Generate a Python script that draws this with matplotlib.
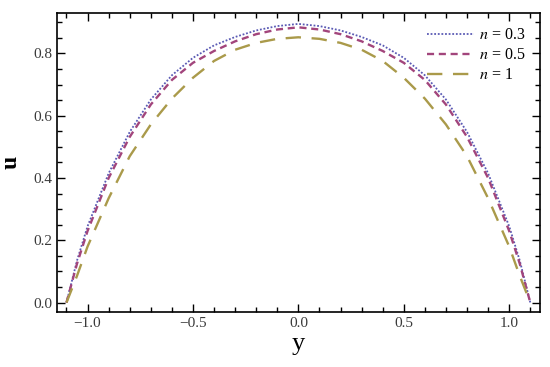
import numpy as np
import matplotlib
matplotlib.use('Agg')
import matplotlib.pyplot as plt
from matplotlib.ticker import MultipleLocator, FuncFormatter

plt.rcParams['font.family'] = ['Liberation Serif', 'DejaVu Serif']
plt.rcParams['mathtext.fontset'] = 'stix'

# velocity profiles
y = [-1.1, -1.05, -1.0, -0.9, -0.8, -0.7, -0.6, -0.5, -0.4, -0.3, -0.2, -0.1, 0.0,
     0.1, 0.2, 0.3, 0.4, 0.5, 0.6, 0.7, 0.8, 0.9, 1.0, 1.05, 1.1]
u_03 = [0.0, 0.135, 0.245, 0.415, 0.548, 0.652, 0.73, 0.786, 0.826, 0.853, 0.874, 0.888, 0.895,
        0.888, 0.874, 0.853, 0.826, 0.786, 0.73, 0.652, 0.548, 0.415, 0.245, 0.135, 0.0]
u_05 = [0.0, 0.125, 0.23, 0.4, 0.532, 0.636, 0.715, 0.77, 0.808, 0.839, 0.862, 0.877, 0.884,
        0.877, 0.862, 0.839, 0.808, 0.77, 0.715, 0.636, 0.532, 0.4, 0.23, 0.125, 0.0]
u_1 = [0.0, 0.086, 0.18, 0.335, 0.47, 0.572, 0.655, 0.722, 0.776, 0.812, 0.834, 0.847, 0.852,
       0.847, 0.834, 0.812, 0.776, 0.722, 0.655, 0.572, 0.47, 0.335, 0.18, 0.086, 0.0]
labels = ['$n$ = 0.3', '$n$ = 0.5', '$n$ = 1']

fig = plt.figure(figsize=(5.5, 3.67), dpi=100)
ax = fig.add_axes([0.1036, 0.150, 0.8782, 0.8146])

ax.plot(y, u_03, color='#5a5ab4', lw=1.3, ls=(0, (1, 1)), label=labels[0])
ax.plot(y, u_05, color='#a2457c', lw=1.7, ls=(0, (3, 2)), label=labels[1])
ax.plot(y, u_1, color='#aa9a4a', lw=1.7, ls=(0, (6.5, 4.5)), label=labels[2])

ax.set_xlim(-1.145, 1.146)
ax.set_ylim(-0.03, 0.93)
ax.xaxis.set_major_locator(MultipleLocator(0.5))
ax.xaxis.set_minor_locator(MultipleLocator(0.1))
ax.yaxis.set_major_locator(MultipleLocator(0.2))
ax.yaxis.set_minor_locator(MultipleLocator(0.05))
fmt = FuncFormatter(lambda v, p: f'{v:.1f}'.replace('-', '\u2212'))
ax.xaxis.set_major_formatter(fmt)
ax.yaxis.set_major_formatter(fmt)
ax.tick_params(which='both', direction='in', top=True, right=True, labelsize=11,
               labelcolor='#3a3a3a', width=1.0)
ax.tick_params(which='major', length=6)
ax.tick_params(which='minor', length=3.5)
for s in ax.spines.values():
    s.set_linewidth(1.2)

ax.set_xlabel('y', fontsize=19, labelpad=2)
ax.set_ylabel('u', fontsize=17, fontweight='bold', labelpad=8)

ax.legend(loc='upper right', frameon=False, fontsize=11.5, handlelength=3.0,
          handletextpad=0.3, labelspacing=0.25, borderaxespad=0.5)

fig.savefig('out.png', dpi=100)
